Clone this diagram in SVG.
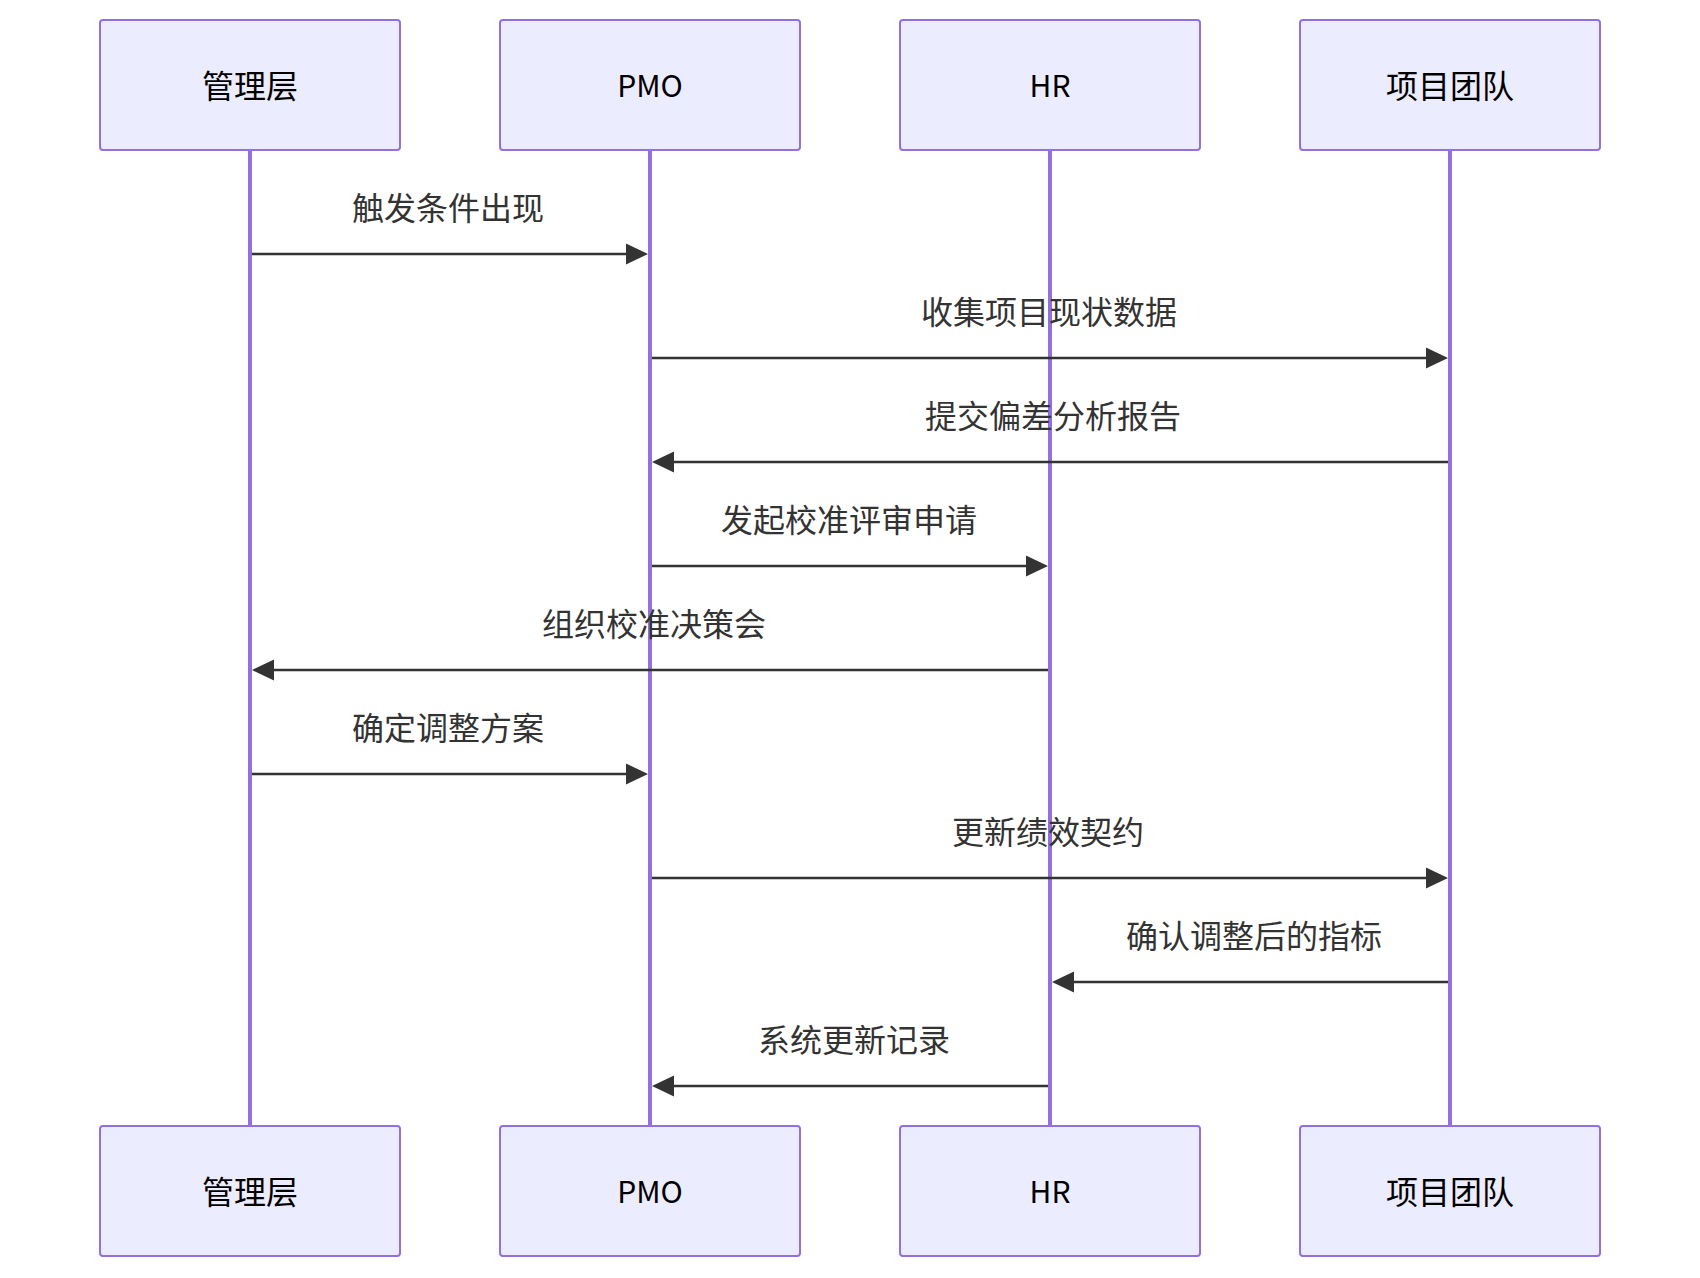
<svg xmlns="http://www.w3.org/2000/svg" width="1700" height="1278" viewBox="0 0 1700 1278">
<defs>
<style>
.box{fill:#ECECFF;stroke:#9370DB;stroke-width:2}
.life{stroke:#9370DB;stroke-width:4}
.msg{stroke:#333;stroke-width:2.5;fill:none}
.ah{fill:#333}
.pt{font-family:"Noto Sans CJK SC","Noto Sans",sans-serif;font-size:32px;fill:#000;text-anchor:middle;dominant-baseline:central}
.lt{font-size:30px}
.mt{font-family:"Noto Sans CJK SC","Noto Sans",sans-serif;font-size:32px;fill:#333;text-anchor:middle;dominant-baseline:central}
</style>
</defs>
<rect width="1700" height="1278" fill="#fff"/>
<g id="lifelines">
<line class="life" x1="250" y1="150" x2="250" y2="1126"/>
<line class="life" x1="650" y1="150" x2="650" y2="1126"/>
<line class="life" x1="1050" y1="150" x2="1050" y2="1126"/>
<line class="life" x1="1450" y1="150" x2="1450" y2="1126"/>
</g>
<g id="p-mgmt"><rect class="box" x="100" y="20" width="300" height="130" rx="3"/><text class="pt" x="250" y="84">管理层</text></g>
<g id="p-pmo"><rect class="box" x="500" y="20" width="300" height="130" rx="3"/><text class="pt lt" x="650" y="84">PMO</text></g>
<g id="p-hr"><rect class="box" x="900" y="20" width="300" height="130" rx="3"/><text class="pt lt" x="1050" y="84">HR</text></g>
<g id="p-team"><rect class="box" x="1300" y="20" width="300" height="130" rx="3"/><text class="pt" x="1450" y="84">项目团队</text></g>
<g id="p-mgmt-b"><rect class="box" x="100" y="1126" width="300" height="130" rx="3"/><text class="pt" x="250" y="1190">管理层</text></g>
<g id="p-pmo-b"><rect class="box" x="500" y="1126" width="300" height="130" rx="3"/><text class="pt lt" x="650" y="1190">PMO</text></g>
<g id="p-hr-b"><rect class="box" x="900" y="1126" width="300" height="130" rx="3"/><text class="pt lt" x="1050" y="1190">HR</text></g>
<g id="p-team-b"><rect class="box" x="1300" y="1126" width="300" height="130" rx="3"/><text class="pt" x="1450" y="1190">项目团队</text></g>
<g id="connectors">
<line class="msg" x1="252" y1="254" x2="630" y2="254"/><polygon class="ah" points="626,243.5 648,254 626,264.5"/>
<text class="mt" x="448" y="206">触发条件出现</text>
<line class="msg" x1="652" y1="358" x2="1430" y2="358"/><polygon class="ah" points="1426,347.5 1448,358 1426,368.5"/>
<text class="mt" x="1049" y="310">收集项目现状数据</text>
<line class="msg" x1="1448" y1="462" x2="670" y2="462"/><polygon class="ah" points="674,451.5 652,462 674,472.5"/>
<text class="mt" x="1053" y="414">提交偏差分析报告</text>
<line class="msg" x1="652" y1="566" x2="1030" y2="566"/><polygon class="ah" points="1026,555.5 1048,566 1026,576.5"/>
<text class="mt" x="849" y="518">发起校准评审申请</text>
<line class="msg" x1="1048" y1="670" x2="270" y2="670"/><polygon class="ah" points="274,659.5 252,670 274,680.5"/>
<text class="mt" x="654" y="622">组织校准决策会</text>
<line class="msg" x1="252" y1="774" x2="630" y2="774"/><polygon class="ah" points="626,763.5 648,774 626,784.5"/>
<text class="mt" x="448" y="726">确定调整方案</text>
<line class="msg" x1="652" y1="878" x2="1430" y2="878"/><polygon class="ah" points="1426,867.5 1448,878 1426,888.5"/>
<text class="mt" x="1048" y="830">更新绩效契约</text>
<line class="msg" x1="1448" y1="982" x2="1070" y2="982"/><polygon class="ah" points="1074,971.5 1052,982 1074,992.5"/>
<text class="mt" x="1254" y="934">确认调整后的指标</text>
<line class="msg" x1="1048" y1="1086" x2="670" y2="1086"/><polygon class="ah" points="674,1075.5 652,1086 674,1096.5"/>
<text class="mt" x="854" y="1038">系统更新记录</text>
</g>
</svg>
